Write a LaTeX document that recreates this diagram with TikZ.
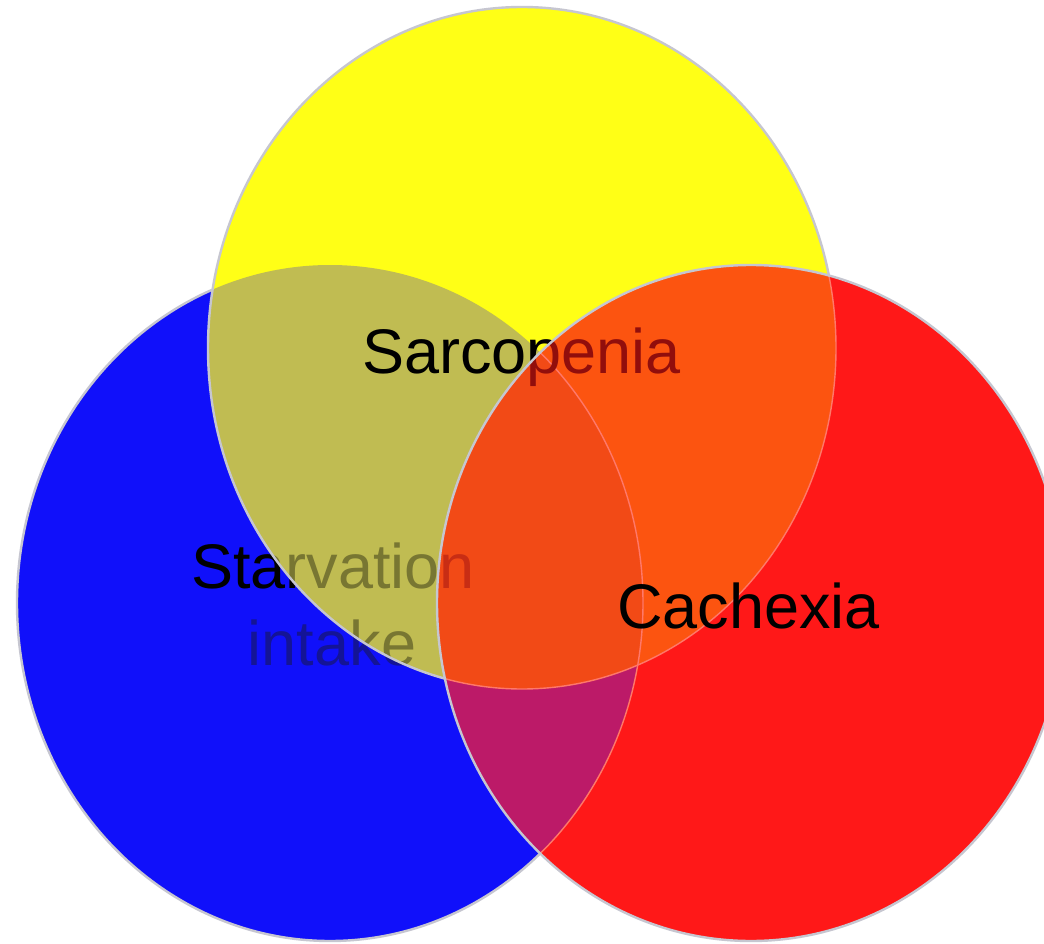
\documentclass[tikz,border=0pt]{standalone}
\usepackage{fontspec}
\setmainfont{Liberation Sans}
\definecolor{cB}{RGB}{16,16,250}
\definecolor{cY}{RGB}{255,255,22}
\definecolor{cR}{RGB}{255,24,24}
\definecolor{cYB}{RGB}{192,188,82}
\definecolor{cRY}{RGB}{252,84,16}
\definecolor{cRB}{RGB}{188,26,104}
\definecolor{cRYB}{RGB}{242,74,22}
\definecolor{vedge}{RGB}{198,198,208}
\definecolor{faintedge}{RGB}{255,120,105}
\definecolor{dimblue}{RGB}{20,20,150}
\definecolor{dimolive}{RGB}{120,118,50}
\definecolor{dimred}{RGB}{145,14,12}
\definecolor{dimredB}{RGB}{200,45,20}
\newcommand*\Bpath{(330,603) ellipse [x radius=313, y radius=338]}
\newcommand*\Ypath{(522,348) ellipse [x radius=314, y radius=341]}
\newcommand*\Rpath{(751,603) ellipse [x radius=314, y radius=338]}
\newcommand*\Frame{(-20,-20) rectangle (1080,980)}
\begin{document}
\begin{tikzpicture}[x=1pt,y=-1pt,
  ring/.style={draw=vedge,line width=2.4pt},
  faint/.style={draw=faintedge,line width=1.4pt},
  lbl/.style={font=\fontsize{63}{75}\selectfont, inner sep=0pt}]
\useasboundingbox (0,0) rectangle (1044,944);
\clip (0,0) rectangle (1044,944);
\fill[white] (0,0) rectangle (1044,944);
% ---- region fills
\fill[cB] \Bpath;
\fill[cY] \Ypath;
\fill[cR] \Rpath;
\begin{scope}
  \clip \Ypath;
  \fill[cYB] \Bpath;
\end{scope}
\begin{scope}
  \clip \Rpath;
  \fill[cRY] \Ypath;
  \fill[cRB] \Bpath;
  \begin{scope}
    \clip \Ypath;
    \fill[cRYB] \Bpath;
  \end{scope}
  \draw[faint] \Bpath;
  \draw[faint] \Ypath;
\end{scope}
% ---- texts lying under the circles
\begin{scope}[even odd rule]
  \clip \Frame \Ypath;
  \clip \Frame \Rpath;
  \node[lbl, anchor=base] (starv) at (333,588) {Starvation};
  \node[lbl, anchor=base, text=dimblue] (intake) at (332,665) {intake};
\end{scope}
\begin{scope}[even odd rule]
  \clip \Ypath;
  \clip \Frame \Rpath;
  \node[lbl, anchor=base, text=dimolive] (starvY) at (333,588) {Starvation};
  \node[lbl, anchor=base, text=dimolive] (intakeY) at (332,665) {intake};
\end{scope}
\begin{scope}
  \clip \Rpath;
  \node[lbl, anchor=base, text=dimredB] (starvR) at (333,588) {Starvation};
  \node[lbl, anchor=base west, text=dimred] (sarcR) at (362,373) {Sarcopenia};
\end{scope}
\begin{scope}[even odd rule]
  \clip \Frame \Rpath;
  \node[lbl, anchor=base west] (sarc) at (362,373) {Sarcopenia};
\end{scope}
% ---- outlines
\begin{scope}[even odd rule]
  \clip \Frame \Ypath;
  \clip \Frame \Rpath;
  \draw[ring] \Bpath;
\end{scope}
\begin{scope}[even odd rule]
  \clip \Frame \Rpath;
  \draw[ring] \Ypath;
\end{scope}
\draw[ring] \Rpath;
% ---- top label
\node[lbl, anchor=base west] (cach) at (617,628) {Cachexia};
\end{tikzpicture}
\end{document}
